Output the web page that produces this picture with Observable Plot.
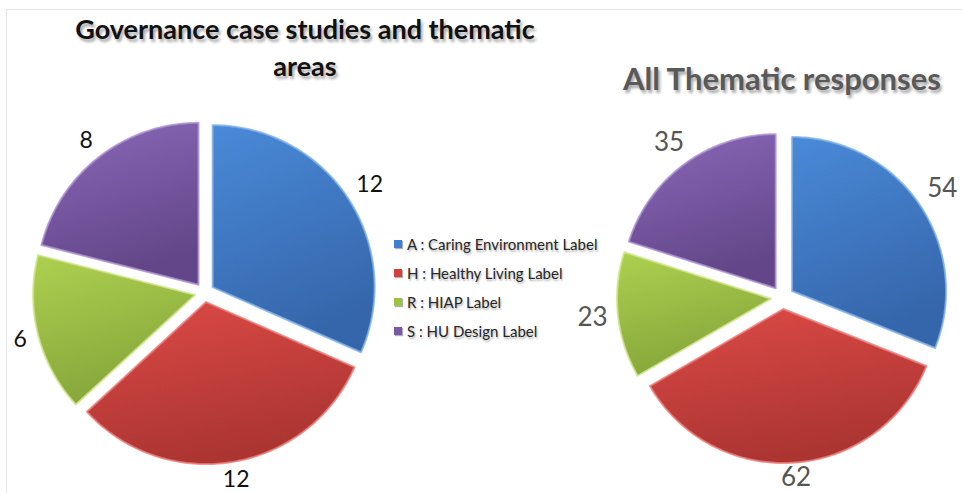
<!DOCTYPE html>
<html>
<head>
<meta charset="utf-8">
<script src="https://cdn.jsdelivr.net/npm/d3@7"></script>
<script src="https://cdn.jsdelivr.net/npm/@observablehq/plot@0.6"></script>
<style>
  html, body { margin: 0; padding: 0; background: #fff; }
  #wrap { position: relative; width: 962px; height: 493px; overflow: hidden; background: #fff; font-family: Lato, "Open Sans", sans-serif; }
  #frame { position: absolute; left: 6px; top: 9px; width: 960px; height: 490px; border-left: 1px solid #e4e4e4; border-top: 1px solid #e4e4e4; }
  .layer { position: absolute; left: 0; top: 0; }
  .title { position: absolute; text-align: center; font-weight: bold; text-shadow: 2px 3px 3px rgba(0,0,0,0.35); white-space: nowrap; }
  #t1 { left: 0; width: 610px; top: 10px; font-size: 27px; line-height: 37px; color: #111; }
  #t2 { left: 582px; width: 400px; top: 60px; font-size: 31px; line-height: 36px; color: #595959; }
  #legend { position: absolute; left: 394px; top: 229px; font-size: 15px; color: #262626; text-shadow: 1px 2px 2px rgba(0,0,0,0.3); }
  .row { height: 29px; display: flex; align-items: center; white-space: nowrap; }
  .sw { width: 8px; height: 8px; margin-right: 5px; box-shadow: 1px 1px 1px rgba(0,0,0,0.3); }
</style>
</head>
<body>
<svg width="0" height="0" style="position:absolute">
  <defs>
    <linearGradient id="gA" x1="0" y1="0" x2="0.3" y2="1"><stop offset="0" stop-color="#4a8ad8"/><stop offset="1" stop-color="#3566ab"/></linearGradient>
    <linearGradient id="gH" x1="0" y1="0" x2="0.3" y2="1"><stop offset="0" stop-color="#dc4a46"/><stop offset="1" stop-color="#ac3532"/></linearGradient>
    <linearGradient id="gR" x1="0" y1="0" x2="0.3" y2="1"><stop offset="0" stop-color="#aed050"/><stop offset="1" stop-color="#86a63a"/></linearGradient>
    <linearGradient id="gS" x1="0" y1="0" x2="0.3" y2="1"><stop offset="0" stop-color="#8a68b8"/><stop offset="1" stop-color="#634689"/></linearGradient>
  </defs>
</svg>
<div id="wrap">
  <div id="frame"></div>
  <div class="title" id="t1">Governance case studies and thematic<br>areas</div>
  <div class="title" id="t2">All Thematic responses</div>
  <div id="legend"></div>
</div>
<script>
// ---- data ----
const categories = ["A : Caring Environment Label", "H : Healthy Living Label", "R : HIAP Label", "S : HU Design Label"];
const keys = ["A", "H", "R", "S"];
const governanceValues = [12, 12, 6, 8];
const thematicValues = [54, 62, 23, 35];

// ---- styling ----
const gradients = {A: "url(#gA)", H: "url(#gH)", R: "url(#gR)", S: "url(#gS)"};
const edgeColors = {A: "#7fb0ea", H: "#ec7d79", R: "#cfe68a", S: "#ab92d0"};
const swatch = {A: "#3f7fcf", H: "#d2413d", R: "#9cc245", S: "#7a58a8"};

const W = 962, H = 493;
const wrap = document.getElementById("wrap");

function pieChart(values, cx, cy, r, explode, gapPx, labelStyle) {
  const arcs = d3.pie().sort(null)(values);
  const marks = [];
  const labels = [];
  arcs.forEach((a, i) => {
    const mid = (a.startAngle + a.endAngle) / 2;
    const sx = Math.sin(mid), sy = Math.cos(mid);
    const ox = explode * sx, oy = explode * sy;
    const pts = [{x: ox, y: oy}];
    const n = Math.max(8, Math.ceil((a.endAngle - a.startAngle) / (Math.PI / 180)));
    for (let k = 0; k <= n; k++) {
      const t = a.startAngle + (a.endAngle - a.startAngle) * k / n;
      pts.push({x: ox + Math.sin(t), y: oy + Math.cos(t)});
    }
    pts.push({x: ox, y: oy});
    marks.push(Plot.line(pts, {
      x: "x", y: "y",
      fill: gradients[keys[i]],
      stroke: edgeColors[keys[i]],
      strokeWidth: 2,
      strokeOpacity: 0.8,
      strokeLinejoin: "round",
      curve: "linear",
      style: "filter: drop-shadow(2px 3px 2px rgba(0,0,0,0.35))"
    }));
    const txt = String(values[i]);
    const halfW = txt.length * labelStyle.size * 0.28;
    const halfH = labelStyle.size * 0.38;
    const distPx = r * (1 + explode) + gapPx + Math.abs(sx) * halfW + Math.abs(sy) * halfH;
    let px = distPx * sx, py = distPx * sy;
    // keep the label inside the picture's bottom edge
    const minY = -(H - labelStyle.size * 0.62 - cy);
    if (py < minY) py = minY;
    labels.push({x: px / r, y: py / r, v: txt});
  });
  marks.push(Plot.text(labels, {
    x: "x", y: "y", text: "v",
    fontSize: labelStyle.size,
    fill: labelStyle.color,
    fontFamily: "Lato, 'Open Sans', sans-serif",
    style: "text-shadow: 1px 2px 2px rgba(0,0,0,0.25)"
  }));
  const svg = Plot.plot({
    width: W, height: H,
    margin: 0,
    x: {domain: [-cx / r, (W - cx) / r], axis: null},
    y: {domain: [(cy - H) / r, cy / r], axis: null},
    style: {background: "transparent", overflow: "visible"},
    marks
  });
  svg.classList.add("layer");
  svg.style.position = "absolute";
  svg.style.left = "0px";
  svg.style.top = "0px";
  return svg;
}

wrap.appendChild(pieChart(governanceValues, 204, 292, 162, 0.06, 10, {size: 23, color: "#111"}));
wrap.appendChild(pieChart(thematicValues, 782, 297, 154, 0.075, 10, {size: 26, color: "#555"}));

const legend = document.getElementById("legend");
categories.forEach((c, i) => {
  const row = document.createElement("div");
  row.className = "row";
  const sw = document.createElement("div");
  sw.className = "sw";
  sw.style.background = swatch[keys[i]];
  const tx = document.createElement("span");
  tx.textContent = c;
  row.appendChild(sw);
  row.appendChild(tx);
  legend.appendChild(row);
});
["t1", "t2", "legend"].forEach(id => wrap.appendChild(document.getElementById(id)));
</script>
</body>
</html>
